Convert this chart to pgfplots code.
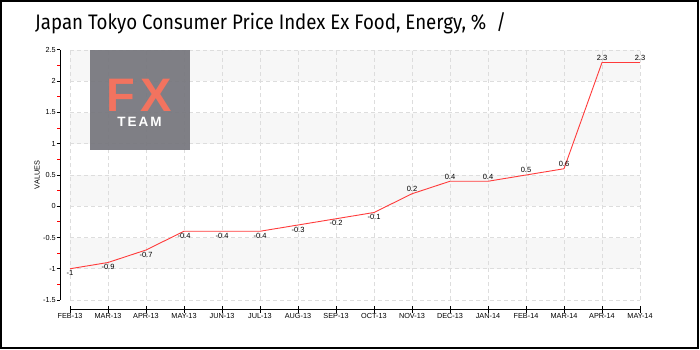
\documentclass[border=0pt]{standalone}
\usepackage{fontspec}
\setmainfont{Liberation Sans}
\newfontfamily\titlefont[FakeStretch=0.89]{Fira Sans}
\usepackage{pgfplots}
\pgfplotsset{compat=1.18}
\definecolor{band}{HTML}{F7F7F7}
\definecolor{gridc}{HTML}{DDDDDD}
\definecolor{linec}{HTML}{FF3B3B}
\definecolor{logog}{HTML}{76767D}
\definecolor{logor}{HTML}{F2735F}
\begin{document}
\begin{tikzpicture}[x=1pt,y=1pt]
\useasboundingbox (0,0) rectangle (700,-350);
\fill[white] (0,0) rectangle (700,-350);
\draw[line width=2pt] (1,-1) rectangle (698,-348);
\node[anchor=base west, inner sep=0pt, font=\titlefont\fontsize{21}{21}\selectfont] at (35,-30) {Japan Tokyo Consumer Price Index Ex Food, Energy, \% \ /};
% background bands
\fill[band] (70,-50) rectangle (640,-81.25);
\fill[band] (70,-112.5) rectangle (640,-143.75);
\fill[band] (70,-175) rectangle (640,-206.25);
\fill[band] (70,-237.5) rectangle (640,-268.75);
\begin{axis}[
  scale only axis, width=570pt, height=250pt,
  at={(70pt,-300pt)}, anchor=south west,
  xmin=0, xmax=15, ymin=-1.5, ymax=2.5,
  axis line style={draw=none},
  major tick length=0pt,
  xtick={0,...,15},
  xticklabels={FEB-13,MAR-13,APR-13,MAY-13,JUN-13,JUL-13,AUG-13,SEP-13,OCT-13,NOV-13,DEC-13,JAN-14,FEB-14,MAR-14,APR-14,MAY-14},
  ytick={-1.5,-1,-0.5,0,0.5,1,1.5,2,2.5},
  grid=major,
  major grid style={gridc, dash pattern=on 4pt off 3pt, line width=0.8pt},
  xticklabel style={font=\fontsize{7.3}{7.3}\selectfont, inner sep=0pt, yshift=-13pt},
  yticklabel style={font=\fontsize{7.3}{7.3}\selectfont, inner sep=0pt, xshift=-14pt},
  /pgf/number format/assume math mode=true,
  clip=false,
  nodes near coords,
  nodes near coords align=vertical,
  every node near coord/.append style={font=\fontsize{7.5}{7.5}\selectfont, text=black, inner sep=1.5pt},
]
\addplot[linec, line width=0.9pt, mark=none] coordinates {
(0,-1) (1,-0.9) (2,-0.7) (3,-0.4) (4,-0.4) (5,-0.4) (6,-0.3) (7,-0.2)
(8,-0.1) (9,0.2) (10,0.4) (11,0.4) (12,0.5) (13,0.6) (14,2.3) (15,2.3)};
\end{axis}
% logo
\fill[logog, opacity=0.93] (90,-50) rectangle (190,-150);
\node[anchor=base, font=\bfseries\fontsize{47}{47}\selectfont, text=logor, inner sep=0pt] at (139.5,-111) {F\hspace{5pt}X};
\node[anchor=base, font=\bfseries\fontsize{13.5}{13.5}\selectfont, text=white, inner sep=0pt] at (139.5,-126.7) {T\hspace{2pt}E\hspace{2pt}A\hspace{2pt}M};
% axis lines and ticks
\draw[line width=1pt] (60,-50) -- (60,-300);
\foreach \k in {0,...,8} { \draw[line width=1pt] (56.5,-50-31.25*\k) -- (60,-50-31.25*\k); }
\foreach \k in {0,...,7} { \draw[red, line width=1pt] (57,-65.625-31.25*\k) -- (60,-65.625-31.25*\k); }
\draw[line width=1pt] (70,-309) -- (640,-309);
\foreach \i in {0,...,15} { \draw[line width=1pt] (70+38*\i,-306) -- (70+38*\i,-312.5); }
\node[rotate=90, font=\fontsize{7.3}{7.3}\selectfont, inner sep=0pt] at (37,-175) {VALUES};
\end{tikzpicture}
\end{document}
